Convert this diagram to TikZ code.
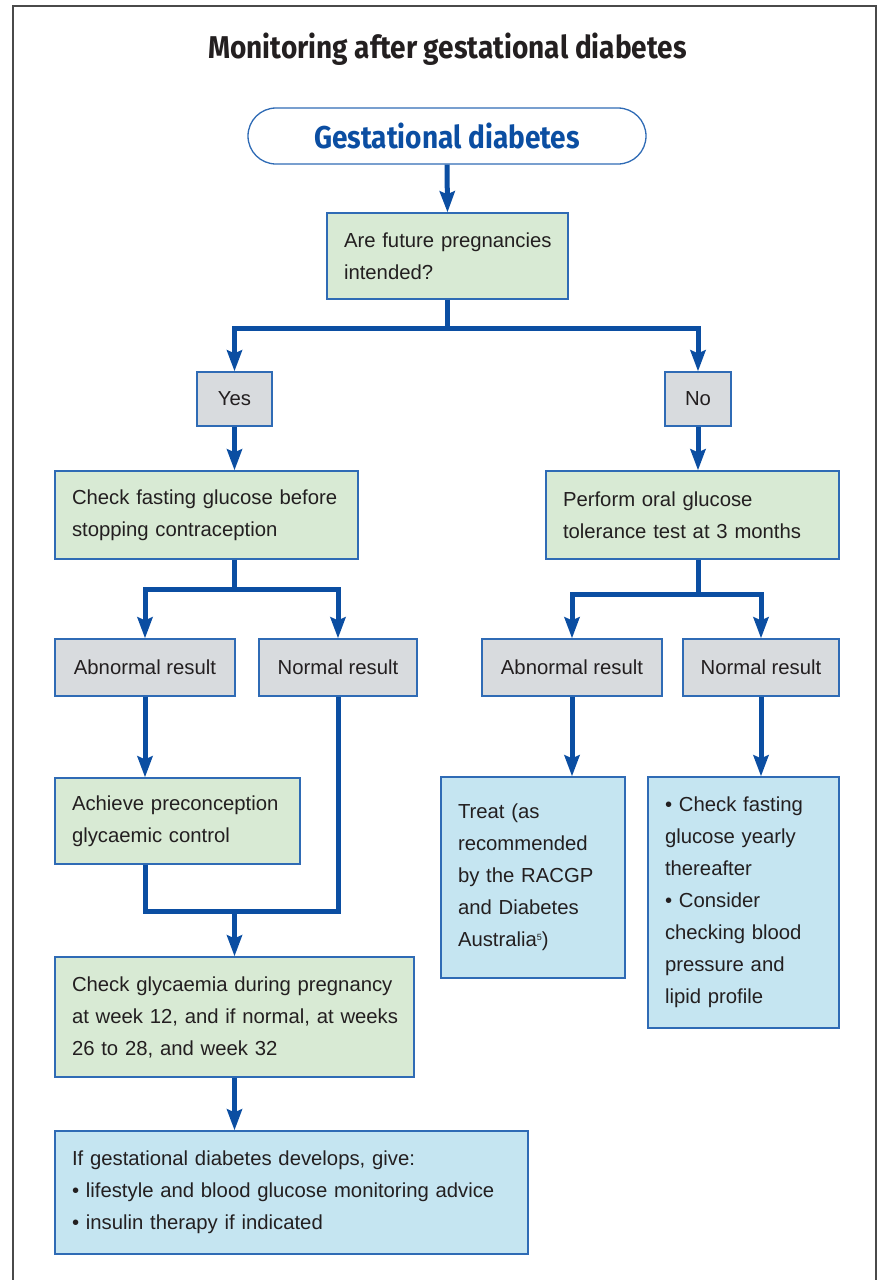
\documentclass[tikz,border=0pt]{standalone}
\usepackage{fontspec}
\setmainfont{Liberation Sans}
\newfontfamily\condfont[FakeStretch=0.89]{Fira Sans}
\usetikzlibrary{arrows.meta}
\definecolor{arrblue}{HTML}{0B4EA2}
\definecolor{edgeblue}{HTML}{2F6BB5}
\definecolor{greenfill}{HTML}{D8EAD4}
\definecolor{grayfill}{HTML}{D8DBDE}
\definecolor{cyanfill}{HTML}{C5E5F1}
\definecolor{txt}{HTML}{231F20}
\definecolor{frame}{HTML}{4A4A4A}
\newcommand{\oneline}[1]{\mbox{#1}}
\tikzset{
  basebox/.style={draw=edgeblue, line width=1.3pt, inner ysep=0pt, inner xsep=17pt,
    text=txt, font=\fontsize{20.3pt}{32pt}\selectfont},
  greenbox/.style={basebox, fill=greenfill, align=left},
  graybox/.style={basebox, fill=grayfill, align=center, inner xsep=0pt},
  cyanbox/.style={basebox, fill=cyanfill, align=left},
  conn/.style={draw=arrblue, line width=5pt, -{Stealth[length=21pt,width=15pt,inset=3pt]}},
  plainline/.style={draw=arrblue, line width=5pt},
  headfont/.style={font=\condfont\bfseries\fontsize{31.5pt}{34pt}\selectfont}
}
\begin{document}
\begin{tikzpicture}[x=1pt,y=-1pt]
\useasboundingbox (0,0) rectangle (878,1280);
\draw[frame, line width=1.6pt] (13,6) rectangle (876,1310);

\node[text=txt, headfont] (title) at (447.5,49) {Monitoring after gestational diabetes};

\node[draw=edgeblue, line width=1.3pt, rounded corners=28pt, minimum width=398pt, minimum height=56pt,
  text=arrblue, headfont] (term) at (447,136) {Gestational diabetes};

\node[greenbox, minimum width=241pt, minimum height=86pt, text width=207pt] (q) at (447.5,256)
  {\oneline{Are future pregnancies}\\\oneline{intended?}};

\node[graybox, minimum width=75pt, minimum height=54pt] (yes) at (234.5,399) {Yes};
\node[graybox, minimum width=66pt, minimum height=54pt] (no) at (698,399) {No};

\node[greenbox, minimum width=303pt, minimum height=88pt, text width=269pt] (cf) at (206.5,515)
  {\oneline{Check fasting glucose before}\\\oneline{stopping contraception}};
\node[greenbox, minimum width=293pt, minimum height=88pt, text width=259pt] (ogtt) at (692.5,515)
  {\oneline{Perform oral glucose}\\\oneline{tolerance test at 3 months}};

\node[graybox, minimum width=180pt, minimum height=57pt] (ab1) at (145,667.5) {Abnormal result};
\node[graybox, minimum width=158pt, minimum height=57pt] (nr1) at (338,667.5) {Normal result};
\node[graybox, minimum width=180pt, minimum height=57pt] (ab2) at (572,667.5) {Abnormal result};
\node[graybox, minimum width=156pt, minimum height=57pt] (nr2) at (761,667.5) {Normal result};

\node[greenbox, minimum width=245pt, minimum height=86pt, text width=211pt] (ach) at (177.5,821)
  {\oneline{Achieve preconception}\\\oneline{glycaemic control}};

\node[cyanbox, minimum width=184pt, minimum height=201pt, text width=150pt] (treat) at (533,877.5)
  {\oneline{Treat (as}\\\oneline{recommended}\\\oneline{by the RACGP}\\\oneline{and Diabetes}\\\oneline{Australia{\fontsize{9pt}{9pt}\selectfont\raisebox{6pt}{5}})}};
\node[cyanbox, minimum width=191pt, minimum height=251pt, text width=157pt] (chk) at (743.5,902.5)
  {\oneline{\textbullet\ Check fasting}\\\oneline{glucose yearly}\\\oneline{thereafter}\\\oneline{\textbullet\ Consider}\\\oneline{checking blood}\\\oneline{pressure and}\\\oneline{lipid profile}};

\node[greenbox, minimum width=359pt, minimum height=120pt, text width=325pt] (cg) at (234.5,1017)
  {\oneline{Check glycaemia during pregnancy}\\\oneline{at week 12, and if normal, at weeks}\\\oneline{26 to 28, and week 32}};

\node[cyanbox, minimum width=473pt, minimum height=123pt, text width=439pt] (fin) at (291.5,1192.5)
  {\oneline{If gestational diabetes develops, give:}\\\oneline{\textbullet\ lifestyle and blood glucose monitoring advice}\\\oneline{\textbullet\ insulin therapy if indicated}};

% junctions
\coordinate (j1) at (447.5,328);
\coordinate (j2) at (234.5,589);
\coordinate (j3) at (698,594);
\coordinate (j5) at (234.5,911);

\draw[conn] (term.south) -- (q.north);
\draw[plainline] (q.south) -- (j1);
\draw[conn] (j1) -| (yes.north);
\draw[conn] (j1) -| (no.north);
\draw[conn] (yes.south) -- (yes.south |- cf.north);
\draw[conn] (no.south) -- (no.south |- ogtt.north);

\draw[plainline] (yes.south |- cf.south) -- (j2);
\draw[conn] (j2) -| (ab1.north);
\draw[conn] (j2) -| (nr1.north);

\draw[plainline] (no.south |- ogtt.south) -- (j3);
\draw[conn] (j3) -| (ab2.north);
\draw[conn] (j3) -| (nr2.north);

\draw[conn] (ab1.south) -- (ab1.south |- ach.north);
\draw[conn] (ab2.south) -- (ab2.south |- treat.north);
\draw[conn] (nr2.south) -- (nr2.south |- chk.north);

\draw[plainline] (ab1.south |- ach.south) |- (j5) -| (nr1.south);
\draw[conn] (j5) -- (cg.north);
\draw[conn] (cg.south) -- (cg.south |- fin.north);
\end{tikzpicture}
\end{document}
